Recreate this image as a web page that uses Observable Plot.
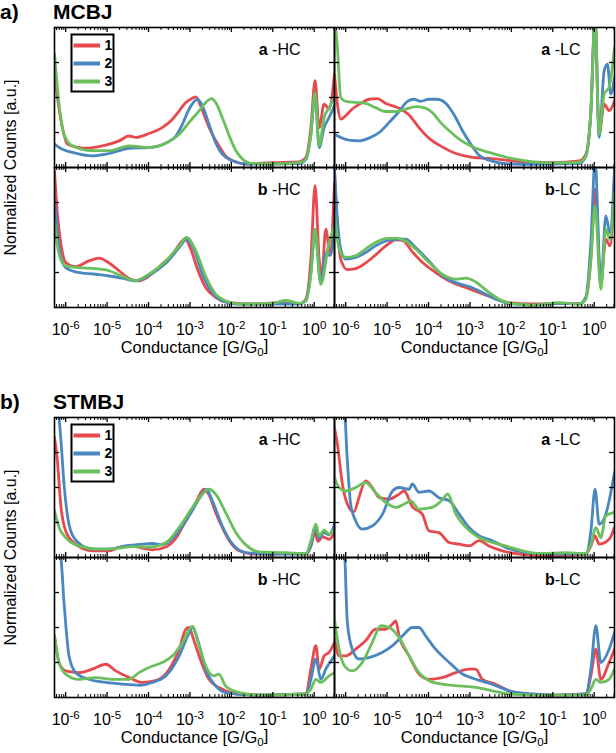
<!DOCTYPE html>
<html><head><meta charset="utf-8">
<script src="https://cdn.jsdelivr.net/npm/d3@7"></script>
<script src="https://cdn.jsdelivr.net/npm/@observablehq/plot@0.6"></script>
<style>
body{margin:0;background:#fff;}
#chart{position:relative;width:616px;height:753px;overflow:hidden;font-family:"Liberation Sans",Arial,sans-serif;}
#chart svg{position:absolute;}
.gtitle{position:absolute;font-weight:bold;font-size:21px;line-height:normal;white-space:nowrap;}
</style></head><body><div id="chart"></div>
<script>
// ---------- chart values ----------
const seriesNames = ["1", "2", "3"];
const seriesColors = ["#e8494d", "#4a87c0", "#6bbf5c"];
const logGDomain = [-6.27, 0.49];           // log10(G/G0) range of the x axis
const majorExponents = [-6, -5, -4, -3, -2, -1, 0];
const yTickValues = [1, 2, 3];
const yDomain = [0, 4];
const groupTags = ["a)", "b)"];
const groupNames = ["MCBJ", "STMBJ"];
const panelLetters = ["a", "a", "b", "b"];
const panelSuffixes = [" -HC", " -LC", " -HC", "-LC"];
const xAxisTitle = "Conductance [G/G0]";
const yAxisTitle = "Normalized Counts [a.u.]";

// each point: [log10(G/G0), normalized counts]
// ---- MCBJ ----
const mcbj_aHC_1 = [[-6.27,2.62],[-6.08,1.14],[-5.96,0.67],[-5.52,0.55],[-5.11,0.62],[-4.71,0.76],[-4.47,0.9],[-4.31,0.86],[-3.99,0.97],[-3.67,1.14],[-3.42,1.38],[-3.26,1.62],[-3.1,1.86],[-2.94,1.98],[-2.86,2.02],[-2.74,1.76],[-2.62,1.38],[-2.46,0.95],[-2.3,0.62],[-2.14,0.33],[-1.97,0.19],[-1.65,0.1],[-1.01,0.14],[-0.36,0.16],[-0.2,0.29],[-0.08,1.14],[0.02,2.48],[0.12,1.14],[0.24,1.81],[0.36,1.67],[0.49,2.67]];
const mcbj_aHC_2 = [[-6.27,0.67],[-6.08,0.52],[-5.84,0.43],[-5.36,0.33],[-4.95,0.4],[-4.47,0.55],[-3.99,0.57],[-3.58,0.7],[-3.34,0.9],[-3.18,1.24],[-3.02,1.67],[-2.82,1.95],[-2.7,1.76],[-2.54,1.24],[-2.38,0.71],[-2.22,0.38],[-1.97,0.19],[-1.65,0.1],[-1.01,0.1],[-0.36,0.11],[-0.2,0.24],[-0.08,0.95],[0.02,2.1],[0.12,0.57],[0.24,1.14],[0.36,1.43],[0.49,1.76]];
const mcbj_aHC_3 = [[-6.27,3.24],[-6.16,1.81],[-6.04,0.95],[-5.84,0.62],[-5.36,0.48],[-4.95,0.48],[-4.47,0.62],[-3.99,0.57],[-3.58,0.69],[-3.26,0.95],[-3.02,1.29],[-2.78,1.62],[-2.62,1.86],[-2.47,1.97],[-2.38,1.86],[-2.22,1.43],[-2.05,0.9],[-1.89,0.48],[-1.73,0.24],[-1.49,0.11],[-1.01,0.1],[-0.36,0.14],[-0.2,0.24],[-0.08,0.95],[0.02,2.14],[0.12,0.62],[0.24,1.43],[0.36,1.71],[0.49,2.0]];
const mcbj_aLC_1 = [[-6.27,2.67],[-6.2,1.81],[-6.12,1.38],[-6.0,1.48],[-5.84,1.67],[-5.64,1.83],[-5.44,1.95],[-5.24,1.97],[-5.03,1.83],[-4.71,1.69],[-4.47,1.5],[-4.23,1.14],[-3.99,0.84],[-3.67,0.59],[-3.34,0.4],[-2.94,0.29],[-2.54,0.26],[-1.97,0.19],[-1.49,0.15],[-1.01,0.14],[-0.36,0.19],[-0.2,0.38],[-0.08,1.62],[0.02,4.3],[0.12,0.95],[0.24,1.81],[0.36,1.62],[0.49,1.9]];
const mcbj_aLC_2 = [[-6.27,0.95],[-6.12,0.86],[-5.92,0.78],[-5.68,0.76],[-5.44,0.84],[-5.19,1.0],[-4.95,1.29],[-4.71,1.6],[-4.51,1.89],[-4.35,1.95],[-4.19,1.89],[-3.99,1.95],[-3.79,1.95],[-3.58,1.83],[-3.38,1.5],[-3.18,1.05],[-2.98,0.67],[-2.78,0.35],[-2.54,0.21],[-2.14,0.11],[-1.49,0.09],[-1.01,0.1],[-0.36,0.11],[-0.2,0.33],[-0.08,1.62],[0.02,4.3],[0.12,0.86],[0.24,2.76],[0.32,2.95],[0.4,2.1],[0.49,2.57]];
const mcbj_aLC_3 = [[-6.27,4.3],[-6.2,3.43],[-6.12,2.0],[-6.0,1.89],[-5.76,1.86],[-5.52,1.83],[-5.28,1.71],[-5.03,1.6],[-4.79,1.6],[-4.55,1.67],[-4.31,1.74],[-4.11,1.71],[-3.91,1.57],[-3.71,1.29],[-3.5,1.05],[-3.26,0.81],[-2.94,0.59],[-2.54,0.43],[-2.14,0.3],[-1.65,0.19],[-1.01,0.13],[-0.36,0.15],[-0.2,0.33],[-0.08,1.62],[0.02,4.3],[0.12,0.95],[0.24,2.1],[0.36,2.29],[0.49,3.43]];
const mcbj_bHC_1 = [[-6.27,3.9],[-6.2,2.67],[-6.12,1.86],[-6.0,1.29],[-5.76,1.17],[-5.44,1.33],[-5.19,1.41],[-4.95,1.27],[-4.71,1.05],[-4.47,0.83],[-4.23,0.76],[-3.99,0.9],[-3.67,1.24],[-3.42,1.52],[-3.22,1.86],[-3.12,1.97],[-2.98,1.67],[-2.82,1.1],[-2.62,0.57],[-2.38,0.29],[-2.05,0.14],[-1.49,0.1],[-0.85,0.14],[-0.36,0.11],[-0.2,0.24],[-0.08,1.38],[0.02,3.48],[0.12,1.38],[0.18,0.86],[0.28,2.24],[0.38,1.57],[0.49,3.57]];
const mcbj_bHC_2 = [[-6.27,3.1],[-6.2,2.14],[-6.12,1.48],[-6.0,1.14],[-5.76,1.02],[-5.28,0.95],[-4.95,0.9],[-4.63,0.84],[-4.31,0.76],[-3.99,0.92],[-3.58,1.27],[-3.26,1.71],[-3.08,1.95],[-2.9,1.65],[-2.7,0.95],[-2.46,0.43],[-2.22,0.19],[-1.81,0.09],[-0.85,0.1],[-0.36,0.1],[-0.2,0.19],[-0.08,1.0],[0.02,2.14],[0.16,0.67],[0.28,1.57],[0.38,1.48],[0.49,2.14]];
const mcbj_bHC_3 = [[-6.27,2.43],[-6.2,1.76],[-6.12,1.38],[-6.0,1.19],[-5.68,1.14],[-5.28,1.11],[-4.95,1.05],[-4.63,0.89],[-4.31,0.77],[-3.99,0.95],[-3.58,1.33],[-3.26,1.76],[-3.08,2.0],[-2.86,1.62],[-2.62,0.89],[-2.38,0.38],[-2.14,0.19],[-1.81,0.1],[-1.01,0.12],[-0.69,0.2],[-0.36,0.12],[-0.2,0.19],[-0.08,0.95],[0.02,2.24],[0.16,0.67],[0.36,1.86],[0.49,2.33]];
const mcbj_bLC_1 = [[-6.27,3.95],[-6.2,2.33],[-6.12,1.38],[-5.96,1.08],[-5.76,1.11],[-5.52,1.27],[-5.28,1.5],[-5.03,1.76],[-4.79,1.93],[-4.63,1.92],[-4.39,1.59],[-4.15,1.29],[-3.83,1.0],[-3.5,0.76],[-3.1,0.57],[-2.78,0.43],[-2.46,0.29],[-2.05,0.14],[-1.49,0.1],[-0.85,0.12],[-0.36,0.11],[-0.2,0.29],[-0.08,1.38],[0.02,3.38],[0.16,0.71],[0.28,1.95],[0.38,1.76],[0.49,3.67]];
const mcbj_bLC_2 = [[-6.27,3.95],[-6.2,2.52],[-6.12,1.67],[-6.0,1.38],[-5.76,1.43],[-5.52,1.57],[-5.28,1.76],[-5.03,1.9],[-4.79,1.95],[-4.55,1.95],[-4.31,1.71],[-3.99,1.33],[-3.67,0.92],[-3.34,0.71],[-3.02,0.6],[-2.7,0.43],[-2.38,0.24],[-2.05,0.11],[-1.49,0.07],[-0.85,0.12],[-0.36,0.1],[-0.2,0.29],[-0.08,1.86],[0.02,4.2],[0.16,0.62],[0.28,2.62],[0.38,2.14],[0.49,3.95]];
const mcbj_bLC_3 = [[-6.27,2.71],[-6.2,1.95],[-6.12,1.57],[-6.0,1.43],[-5.76,1.48],[-5.52,1.67],[-5.28,1.86],[-5.03,1.97],[-4.79,1.98],[-4.55,1.9],[-4.31,1.67],[-3.99,1.29],[-3.67,0.95],[-3.34,0.81],[-3.1,0.84],[-2.86,0.73],[-2.54,0.43],[-2.22,0.19],[-1.89,0.1],[-1.49,0.07],[-0.85,0.14],[-0.36,0.1],[-0.2,0.24],[-0.08,1.38],[0.02,2.9],[0.16,0.52],[0.28,2.24],[0.38,1.95],[0.49,3.29]];
// ---- STMBJ ----
const stmbj_aHC_1 = [[-6.27,3.43],[-6.2,2.76],[-6.12,1.52],[-6.0,0.76],[-5.76,0.38],[-5.36,0.19],[-4.95,0.19],[-4.71,0.29],[-4.39,0.33],[-4.15,0.27],[-3.91,0.22],[-3.58,0.3],[-3.34,0.55],[-3.1,1.05],[-2.86,1.57],[-2.66,1.95],[-2.54,1.79],[-2.38,1.29],[-2.22,0.86],[-2.05,0.48],[-1.81,0.19],[-1.49,0.1],[-1.01,0.1],[-0.69,0.11],[-0.2,0.1],[-0.08,0.33],[0.02,0.71],[0.09,0.46],[0.2,0.59],[0.36,0.52],[0.49,0.71]];
const stmbj_aHC_2 = [[-6.27,4.3],[-6.2,4.3],[-6.12,3.43],[-6.04,2.1],[-5.92,0.95],[-5.76,0.5],[-5.36,0.24],[-4.95,0.24],[-4.55,0.33],[-4.15,0.38],[-3.91,0.4],[-3.67,0.36],[-3.34,0.65],[-3.02,1.19],[-2.78,1.67],[-2.6,1.95],[-2.46,1.62],[-2.22,0.9],[-1.97,0.38],[-1.65,0.14],[-1.01,0.1],[-0.2,0.1],[-0.08,0.33],[0.02,0.86],[0.12,0.55],[0.24,0.71],[0.36,0.65],[0.49,0.95]];
const stmbj_aHC_3 = [[-6.27,1.33],[-6.16,0.86],[-6.0,0.57],[-5.68,0.33],[-5.19,0.24],[-4.71,0.27],[-4.39,0.31],[-3.99,0.3],[-3.58,0.43],[-3.26,0.86],[-2.94,1.43],[-2.7,1.81],[-2.54,1.95],[-2.38,1.81],[-2.14,1.29],[-1.89,0.71],[-1.65,0.36],[-1.33,0.16],[-0.69,0.14],[-0.2,0.11],[-0.08,0.48],[0.04,0.95],[0.12,0.62],[0.24,0.78],[0.36,0.67],[0.49,0.81]];
const stmbj_aLC_1 = [[-6.27,3.71],[-6.2,3.24],[-6.08,2.1],[-5.92,1.43],[-5.8,1.31],[-5.68,1.71],[-5.52,2.19],[-5.36,2.0],[-5.19,1.71],[-4.95,1.67],[-4.71,1.81],[-4.59,1.9],[-4.39,1.45],[-4.15,1.24],[-3.99,0.76],[-3.75,0.71],[-3.5,0.43],[-3.26,0.38],[-3.02,0.33],[-2.78,0.48],[-2.54,0.33],[-2.22,0.19],[-1.81,0.1],[-1.01,0.05],[-0.2,0.1],[-0.08,0.33],[0.02,0.62],[0.12,0.38],[0.36,0.52],[0.49,0.86]];
const stmbj_aLC_2 = [[-6.27,4.3],[-6.04,4.3],[-5.96,2.76],[-5.88,1.52],[-5.76,1.05],[-5.6,0.81],[-5.36,0.9],[-5.11,1.24],[-4.87,1.9],[-4.71,2.0],[-4.47,1.95],[-4.39,2.1],[-4.23,1.86],[-3.99,1.9],[-3.75,1.71],[-3.5,1.62],[-3.26,1.24],[-3.02,0.86],[-2.78,0.62],[-2.46,0.48],[-2.14,0.29],[-1.65,0.14],[-1.01,0.1],[-0.2,0.1],[-0.08,0.76],[0.02,1.95],[0.12,0.95],[0.28,1.24],[0.49,2.43]];
const stmbj_aLC_3 = [[-6.27,2.29],[-6.16,2.0],[-6.0,1.9],[-5.76,2.0],[-5.52,2.14],[-5.28,1.86],[-5.03,1.57],[-4.79,1.43],[-4.55,1.55],[-4.43,1.62],[-4.23,1.38],[-3.91,1.43],[-3.67,1.64],[-3.54,1.81],[-3.34,1.24],[-3.1,0.86],[-2.78,0.57],[-2.46,0.43],[-2.14,0.33],[-1.73,0.19],[-1.33,0.11],[-0.69,0.14],[-0.2,0.11],[-0.08,0.38],[0.04,0.86],[0.16,0.57],[0.28,1.19],[0.49,1.29]];
const stmbj_bHC_1 = [[-6.27,1.76],[-6.16,1.0],[-6.0,0.76],[-5.68,0.71],[-5.36,0.81],[-5.03,0.95],[-4.79,0.76],[-4.47,0.57],[-4.15,0.43],[-3.83,0.48],[-3.5,0.81],[-3.26,1.38],[-3.1,1.95],[-3.02,2.0],[-2.94,1.76],[-2.78,1.19],[-2.54,0.52],[-2.22,0.24],[-1.89,0.1],[-1.17,0.07],[-0.2,0.1],[-0.08,0.81],[0.04,1.48],[0.12,0.81],[0.24,1.19],[0.36,1.29],[0.49,1.57]];
const stmbj_bHC_2 = [[-6.27,4.3],[-6.12,4.0],[-6.04,2.71],[-5.92,1.19],[-5.76,0.71],[-5.44,0.52],[-5.03,0.43],[-4.63,0.38],[-4.23,0.35],[-3.91,0.43],[-3.58,0.62],[-3.26,1.19],[-3.06,1.74],[-2.94,2.0],[-2.82,1.67],[-2.62,0.81],[-2.38,0.33],[-2.14,0.14],[-1.49,0.07],[-0.2,0.1],[-0.08,0.52],[0.04,1.1],[0.16,0.52],[0.28,0.81],[0.49,1.19]];
const stmbj_bHC_3 = [[-6.27,1.76],[-6.16,1.0],[-6.0,0.67],[-5.68,0.52],[-5.28,0.57],[-4.87,0.52],[-4.47,0.52],[-4.23,0.71],[-3.99,0.86],[-3.67,1.0],[-3.42,1.19],[-3.18,1.57],[-2.94,2.03],[-2.78,1.48],[-2.62,0.9],[-2.42,0.62],[-2.3,0.67],[-2.14,0.33],[-1.81,0.14],[-1.33,0.07],[-0.2,0.1],[-0.08,0.24],[0.04,0.52],[0.16,0.43],[0.36,0.62],[0.49,0.71]];
const stmbj_bLC_1 = [[-6.27,1.67],[-6.16,1.19],[-6.0,1.19],[-5.76,1.38],[-5.52,1.62],[-5.28,1.95],[-5.03,1.95],[-4.87,2.1],[-4.79,2.19],[-4.71,1.76],[-4.47,1.19],[-4.23,0.67],[-3.99,0.52],[-3.67,0.57],[-3.34,0.71],[-3.02,0.81],[-2.86,0.81],[-2.7,0.52],[-2.38,0.38],[-2.05,0.19],[-1.65,0.1],[-1.01,0.07],[-0.2,0.1],[-0.08,0.62],[0.04,1.38],[0.16,0.52],[0.36,1.0],[0.49,1.38]];
const stmbj_bLC_2 = [[-6.27,4.3],[-6.04,4.3],[-5.96,2.14],[-5.84,1.38],[-5.68,1.1],[-5.44,1.14],[-5.11,1.29],[-4.87,1.48],[-4.63,1.76],[-4.39,2.0],[-4.23,2.0],[-4.07,1.76],[-3.83,1.38],[-3.5,1.0],[-3.18,0.67],[-2.86,0.52],[-2.46,0.38],[-2.05,0.19],[-1.49,0.1],[-0.85,0.07],[-0.2,0.1],[-0.08,0.81],[0.04,2.05],[0.16,1.0],[0.36,1.38],[0.49,1.86]];
const stmbj_bLC_3 = [[-6.27,2.24],[-6.16,1.38],[-6.0,0.86],[-5.84,0.76],[-5.6,1.0],[-5.36,1.57],[-5.15,2.05],[-4.95,2.0],[-4.71,1.71],[-4.47,1.19],[-4.23,0.71],[-3.99,0.48],[-3.67,0.38],[-3.26,0.33],[-2.86,0.29],[-2.46,0.19],[-2.05,0.1],[-1.49,0.07],[-0.2,0.07],[-0.08,0.24],[0.04,0.52],[0.16,0.43],[0.36,0.52],[0.49,0.81]];

const groupPanels = [
  [[mcbj_aHC_1, mcbj_aHC_2, mcbj_aHC_3], [mcbj_aLC_1, mcbj_aLC_2, mcbj_aLC_3],
   [mcbj_bHC_1, mcbj_bHC_2, mcbj_bHC_3], [mcbj_bLC_1, mcbj_bLC_2, mcbj_bLC_3]],
  [[stmbj_aHC_1, stmbj_aHC_2, stmbj_aHC_3], [stmbj_aLC_1, stmbj_aLC_2, stmbj_aLC_3],
   [stmbj_bHC_1, stmbj_bHC_2, stmbj_bHC_3], [stmbj_bLC_1, stmbj_bLC_2, stmbj_bLC_3]]
];

// ---------- layout ----------
const FONT = '"Liberation Sans", Arial, Helvetica, sans-serif';
const groupTop = [27, 417];
const colLeft = [54, 334];
const innerW = 280, innerH = 140, M = 4, bottomExtra = 60;
const xDomain = logGDomain.map(v => 10 ** v);
const majorTicks = majorExponents.map(e => 10 ** e);
const minorTicks = [];
for (const e of [-7, ...majorExponents]) for (let m = 2; m <= 9; m++) {
  const v = m * 10 ** e; if (v > xDomain[0] && v < xDomain[1]) minorTicks.push(v);
}
const tickLenY = 5 / 35, minorLenY = 3 / 35;   // tick lengths in y units
const tickLenX = 10 ** (5 / 41.4);               // tick length as log factor

const chart = document.getElementById("chart");

function buildPanel(g, p) {
  const row = Math.floor(p / 2), col = p % 2;
  const isBottom = row === 1;
  const series = groupPanels[g][p];
  const marks = [];
  series.forEach((s, i) => marks.push(Plot.line(s, {
    x: d => 10 ** d[0], y: d => d[1], stroke: seriesColors[i],
    strokeWidth: 2.8, curve: "monotone-x", clip: true, strokeLinejoin: "round"
  })));
  const tk = {stroke: "black", strokeWidth: 1.3};
  marks.push(
    Plot.ruleX(majorTicks, {x: d => d, y1: 0, y2: tickLenY, ...tk}),
    Plot.ruleX(majorTicks, {x: d => d, y1: 4 - tickLenY, y2: 4, ...tk}),
    Plot.ruleX(minorTicks, {x: d => d, y1: 0, y2: minorLenY, ...tk, strokeWidth: 1}),
    Plot.ruleX(minorTicks, {x: d => d, y1: 4 - minorLenY, y2: 4, ...tk, strokeWidth: 1}),
    Plot.ruleY(yTickValues, {y: d => d, x1: xDomain[0], x2: xDomain[0] * tickLenX, ...tk}),
    Plot.ruleY(yTickValues, {y: d => d, x1: xDomain[1] / tickLenX, x2: xDomain[1], ...tk}),
    Plot.frame({stroke: "black", strokeWidth: 1.6}),
    Plot.text([panelLetters[p] + panelSuffixes[p]], {frameAnchor: "top-right", dx: -34, dy: 27,
      lineAnchor: "bottom", textAnchor: "end", fontSize: 16, fill: "black"})
  );
  if (isBottom) {
    marks.push(
      Plot.axisX(majorTicks, {anchor: "bottom", tickSize: 0, tickPadding: 16, fontSize: 16,
        tickFormat: d => "10^" + Math.round(Math.log10(d)), label: null}),
      Plot.text([xAxisTitle], {frameAnchor: "bottom", dy: 45, fontSize: 16.5, fill: "black"})
    );
    if (col === 0) marks.push(Plot.text([yAxisTitle], {frameAnchor: "top-left", dx: -44,
      rotate: -90, textAnchor: "middle", lineAnchor: "middle", fontSize: 16, fill: "black"}));
  }
  const svg = Plot.plot({
    width: innerW + 2 * M,
    height: innerH + M + (isBottom ? bottomExtra : M),
    marginLeft: M, marginRight: M, marginTop: M, marginBottom: isBottom ? bottomExtra : M,
    x: {type: "log", domain: xDomain, axis: null},
    y: {domain: yDomain, axis: null},
    style: {fontFamily: FONT, background: "transparent", overflow: "visible", color: "black"},
    marks
  });
  svg.style.left = (colLeft[col] - M) + "px";
  svg.style.top = (groupTop[g] + row * innerH - M) + "px";
  // rich text: bold panel letter, superscript exponents, subscript 0
  d3.select(svg).selectAll("text").each(function () {
    const t = this.textContent, el = d3.select(this);
    const m = /^10\^(-?\d+)$/.exec(t);
    if (m) {
      el.text(null);
      el.append("tspan").text("10");
      el.append("tspan").attr("dy", "-0.5em").attr("font-size", "0.72em").text(m[1]);
    } else if (t === panelLetters[p] + panelSuffixes[p]) {
      el.text(null);
      el.append("tspan").attr("font-weight", "bold").text(panelLetters[p]);
      el.append("tspan").text(panelSuffixes[p]);
    } else if (t === xAxisTitle) {
      el.text(null);
      el.append("tspan").text("Conductance [G/G");
      el.append("tspan").attr("dy", "0.3em").attr("font-size", "0.7em").text("0");
      el.append("tspan").attr("dy", "-0.3em").text("]");
    }
  });
  chart.appendChild(svg);
}

function buildLegend(g) {
  const svg = Plot.plot({
    width: 44, height: 59, margin: 0,
    x: {domain: [0, 44], range: [0, 44], axis: null},
    y: {type: "point", domain: seriesNames, range: [12, 48.5], padding: 0, axis: null},
    color: {domain: seriesNames, range: seriesColors},
    style: {fontFamily: FONT, background: "white", overflow: "visible"},
    marks: [
      Plot.ruleY(seriesNames, {y: d => d, x1: 3.5, x2: 30, stroke: d => d, strokeWidth: 4}),
      Plot.text(seriesNames, {x: 34, y: d => d, text: d => d, textAnchor: "start",
        fontWeight: "bold", fontSize: 14, fill: "black"}),
      Plot.frame({stroke: "black", strokeWidth: 2, inset: 1})
    ]
  });
  svg.style.left = "70px";
  svg.style.top = (groupTop[g] + 6) + "px";
  chart.appendChild(svg);
}

const titleTops = [0, 390];
for (let g = 0; g < 2; g++) {
  for (let p = 0; p < 4; p++) buildPanel(g, p);
  buildLegend(g);
  const a = document.createElement("div");
  a.className = "gtitle"; a.style.left = "0px"; a.style.top = titleTops[g] + "px"; a.textContent = groupTags[g];
  const b = document.createElement("div");
  b.className = "gtitle"; b.style.left = "53px"; b.style.top = titleTops[g] + "px"; b.textContent = groupNames[g];
  chart.appendChild(a); chart.appendChild(b);
}
</script></body></html>
